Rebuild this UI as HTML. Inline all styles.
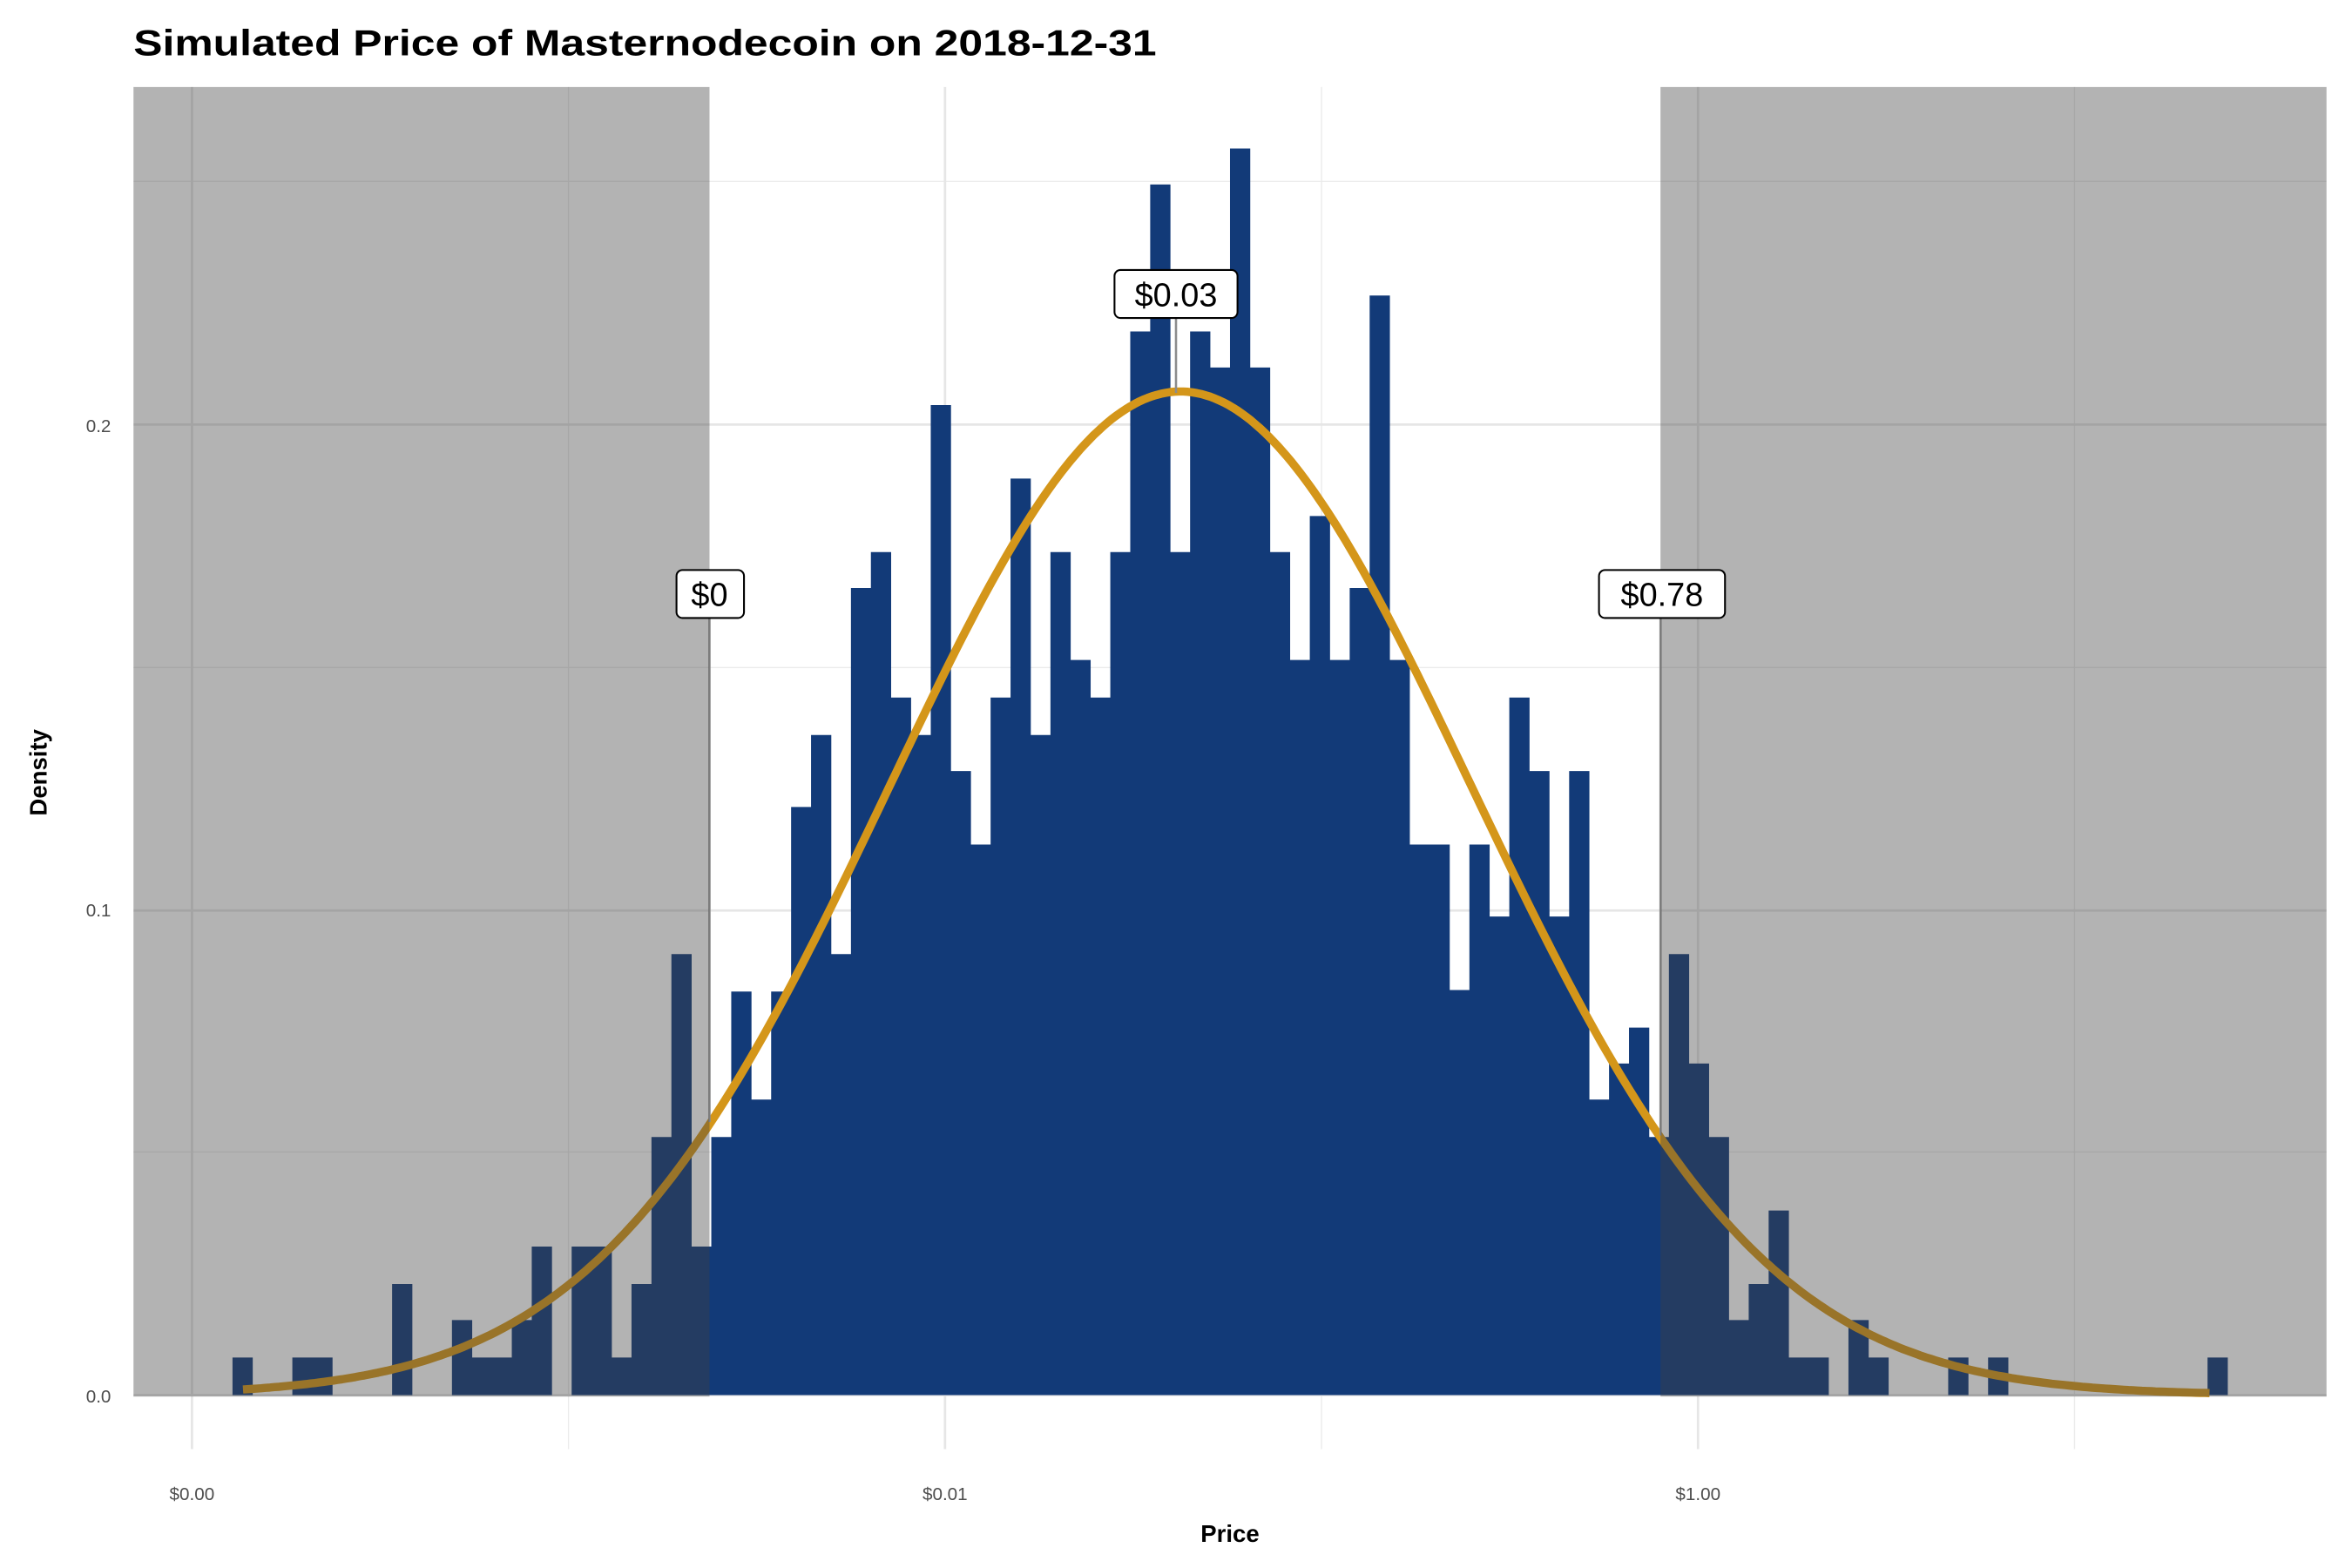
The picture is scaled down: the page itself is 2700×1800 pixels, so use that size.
<!DOCTYPE html>
<html><head><meta charset="utf-8"><style>
html,body{margin:0;padding:0;background:#fff;width:2700px;height:1800px;overflow:hidden;}
svg{display:block;}
text{font-family:"Liberation Sans",Arial,sans-serif;}
</style></head><body>
<svg id="s" width="2700" height="1800" viewBox="0 0 1568 1045.3" preserveAspectRatio="none" xmlns="http://www.w3.org/2000/svg">
<rect width="1568" height="1045.3" fill="#fff"/>
<text x="89" y="37" font-size="24" font-weight="bold" textLength="682" lengthAdjust="spacingAndGlyphs">Simulated Price of Masternodecoin on 2018-12-31</text>
<g stroke="#ebebeb" stroke-width="0.8">
<line x1="89" x2="1551" y1="121" y2="121"/><line x1="89" x2="1551" y1="445" y2="445"/><line x1="89" x2="1551" y1="768" y2="768"/>
<line x1="379" x2="379" y1="58" y2="966"/><line x1="881" x2="881" y1="58" y2="966"/><line x1="1383" x2="1383" y1="58" y2="966"/>
</g>
<g stroke="#e6e6e6" stroke-width="1.6">
<line x1="89" x2="1551" y1="283" y2="283"/><line x1="89" x2="1551" y1="607" y2="607"/><line x1="89" x2="1551" y1="930" y2="930"/>
<line x1="128" x2="128" y1="58" y2="966"/><line x1="630" x2="630" y1="58" y2="966"/><line x1="1132" x2="1132" y1="58" y2="966"/>
</g>
<path id="bars" fill="#123a78"/>
<path id="curve" fill="none" stroke="#d4961a" stroke-width="5.5" stroke-linejoin="round"/>
<g stroke="#8c8c8c" stroke-width="1.5">
<line x1="473" x2="473" y1="410" y2="748"/>
<line x1="784" x2="784" y1="211" y2="262"/>
<line x1="1107" x2="1107" y1="410" y2="757"/>
</g>
<rect x="89" y="58" width="384" height="873" fill="rgb(64,64,64)" fill-opacity="0.4"/>
<rect x="1107" y="58" width="444" height="873" fill="rgb(64,64,64)" fill-opacity="0.4"/>
<g font-size="22" text-anchor="middle">
<rect x="451" y="380" width="45" height="32" rx="4" fill="#fff" stroke="#000" stroke-width="1.2"/>
<text x="473" y="404">$0</text>
<rect x="743" y="180" width="82" height="32" rx="4" fill="#fff" stroke="#000" stroke-width="1.2"/>
<text x="784" y="204">$0.03</text>
<rect x="1066" y="380" width="84" height="32" rx="4" fill="#fff" stroke="#000" stroke-width="1.2"/>
<text x="1108" y="404">$0.78</text>
</g>
<g font-size="12" fill="#4d4d4d" text-anchor="end">
<text x="74" y="288">0.2</text><text x="74" y="611">0.1</text><text x="74" y="935">0.0</text>
</g>
<g font-size="12" fill="#4d4d4d" text-anchor="middle">
<text x="128" y="1000">$0.00</text><text x="630" y="1000">$0.01</text><text x="1132" y="1000">$1.00</text>
</g>
<text x="820" y="1028" font-size="16" font-weight="bold" text-anchor="middle">Price</text>
<text transform="translate(31,515) rotate(-90)" font-size="16" font-weight="bold" text-anchor="middle">Density</text>
</svg>
<script>
var tops={0:905,3:905,4:905,8:856,11:880,12:905,13:905,14:880,15:831,17:831,18:831,19:905,20:856,21:758,22:636,23:831,24:758,25:661,26:733,27:661,28:538,29:490,30:636,31:392,32:368,33:465,34:490,35:270,36:514,37:563,38:465,39:319,40:490,41:368,42:440,43:465,44:368,45:221,46:123,47:368,48:221,49:245,50:99,51:245,52:368,53:440,54:344,55:440,56:392,57:197,58:440,59:563,60:563,61:660,62:563,63:611,64:465,65:514,66:611,67:514,68:733,69:709,70:685,71:758,72:636,73:709,74:758,75:880,76:856,77:807,78:905,79:905,81:880,82:905,86:905,88:905,99:905};
var d="";for(var k in tops){var x=155+13.3*k;d+="M"+x.toFixed(1)+" 930V"+tops[k]+"H"+(x+13.5).toFixed(1)+"V930Z";}
document.getElementById("bars").setAttribute("d",d);
var c="";for(var x=162;x<=1475;x+=3){var y=930-669*Math.exp(-Math.pow(x-787,2)/(2*194*194));c+=(x==162?"M":"L")+x+" "+y.toFixed(1);}
document.getElementById("curve").setAttribute("d",c);
</script>
</body></html>
